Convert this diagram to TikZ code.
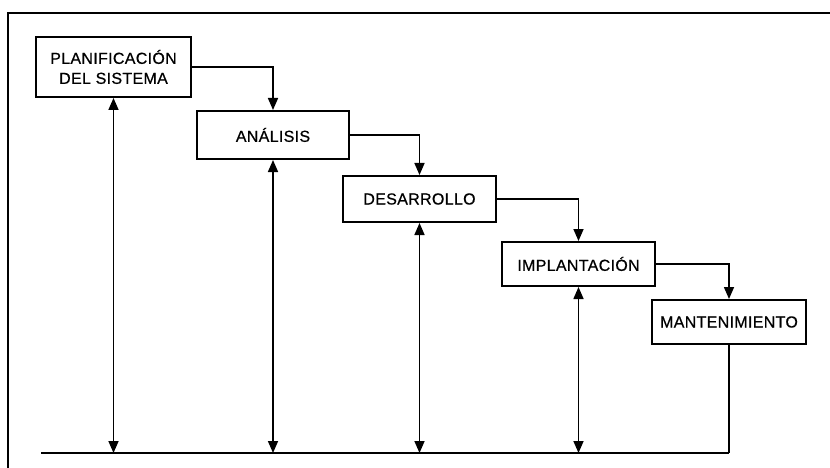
\documentclass[tikz,border=0pt]{standalone}
\usepackage{fontspec}
\setmainfont{Liberation Sans}[LetterSpace=2,FakeBold=0.6]
\usetikzlibrary{arrows.meta}
\begin{document}
\begin{tikzpicture}[x=1pt,y=-1pt,
  phase/.style={draw, line width=2pt, rectangle, inner sep=0pt, align=center,
    font=\fontsize{16}{20}\selectfont},
  tip/.style={Triangle[length=12pt,width=10pt]},
  link/.style={line width=1.6pt, -{Triangle[length=12pt,width=10pt]}},
  both/.style={line width=1.6pt, {Triangle[length=12pt,width=10pt]}-{Triangle[length=12pt,width=10pt]}}]
  \useasboundingbox (0,0) rectangle (830,468);
  % open frame: top and left edges
  \draw[line width=2pt] (830,13) -- (8,13) -- (8,468);

  % phases of the life cycle
  \node[phase, minimum width=155pt, minimum height=60pt] (b1) at (113.5,67) {PLANIFICACIÓN\\DEL SISTEMA};
  \node[phase, minimum width=152pt, minimum height=48pt] (b2) at (273,135) {ANÁLISIS};
  \node[phase, minimum width=153pt, minimum height=46pt] (b3) at (419.5,199) {DESARROLLO};
  \node[phase, minimum width=153pt, minimum height=44pt] (b4) at (578.5,264) {IMPLANTACIÓN};
  \node[phase, minimum width=154pt, minimum height=44pt] (b5) at (729,322) {MANTENIMIENTO};

  % cascade from one phase to the next
  \draw[link] (b1.east) -| (b2.north);
  \draw[link] (b2.east) -| (b3.north);
  \draw[link] (b3.east) -| (b4.north);
  \draw[link] (b4.east) -| (b5.north);

  % common base line
  \coordinate (bl) at (41,453);
  \coordinate (br) at (b5 |- bl);
  \draw[line width=2pt] (bl) -- (br);
  \draw[line width=1.6pt] (b5.south) -- (br);

  % feedback between each phase and the base line
  \draw[both] (b1 |- bl) -- (b1.south);
  \draw[both] (b2 |- bl) -- (b2.south);
  \draw[both] (b3 |- bl) -- (b3.south);
  \draw[both] (b4 |- bl) -- (b4.south);
\end{tikzpicture}
\end{document}
